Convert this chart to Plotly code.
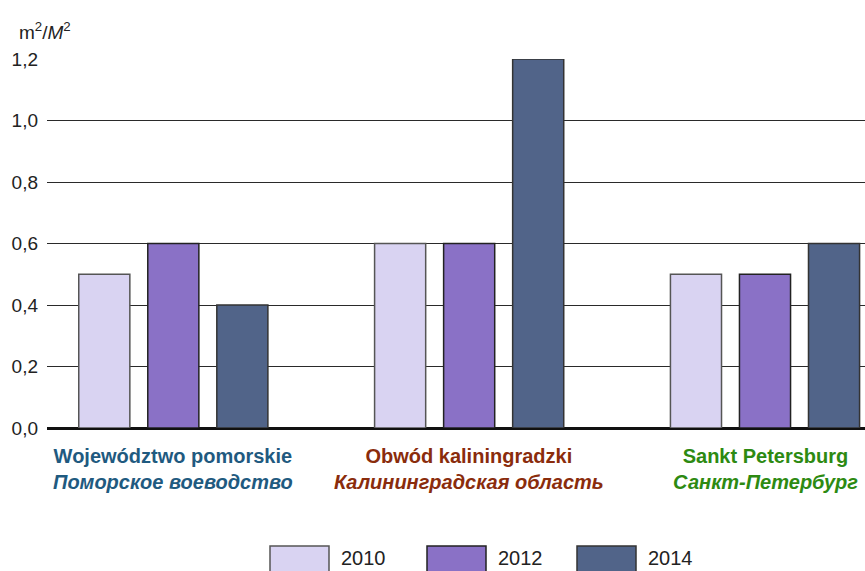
import plotly.graph_objects as go

# data
regions_pl = ["Województwo pomorskie", "Obwód kaliningradzki", "Sankt Petersburg"]
regions_ru = ["Поморское воеводство", "Калининградская область", "Санкт-Петербург"]
region_colors = ["#1F5A80", "#8A2C0C", "#2D8A12"]
years = ["2010", "2012", "2014"]
values_2010 = [0.5, 0.6, 0.5]
values_2012 = [0.6, 0.6, 0.5]
values_2014 = [0.4, 1.2, 0.6]
series = [values_2010, values_2012, values_2014]
bar_colors = ["#D9D3F2", "#8A71C6", "#516489"]
border_colors = ["#555555", "#222222", "#333333"]
y_ticks = [0, 0.2, 0.4, 0.6, 0.8, 1.0, 1.2]
y_labels = ["0,0", "0,2", "0,4", "0,6", "0,8", "1,0", "1,2"]

W, H = 865, 571
M_L, M_R, M_T, M_B = 47, 0, 59, 143
PW, PH = W - M_L - M_R, H - M_T - M_B
FONT = "Liberation Sans, Arial, sans-serif"


def px_x(x):
    return (x - M_L) / PW


def px_y(y):
    return (H - M_B - y) / PH


fig = go.Figure()
for year, vals, col, bcol in zip(years, series, bar_colors, border_colors):
    fig.add_trace(go.Bar(
        x=regions_pl, y=vals, name=year,
        marker=dict(color=col, line=dict(color=bcol, width=1.5)),
        showlegend=False,
    ))

annotations = [dict(
    text="m<sup>2</sup>/<i>M</i><sup>2</sup>", xref="paper", yref="paper",
    x=px_x(17), y=px_y(31), xanchor="left", yanchor="middle", showarrow=False,
    font=dict(family=FONT, size=19, color="#222222"),
)]
for pl, ru, col in zip(regions_pl, regions_ru, region_colors):
    annotations.append(dict(
        text=f"<b>{pl}</b><br><b><i>{ru}</i></b>", x=pl, xref="x",
        y=px_y(443), yref="paper", xanchor="center", yanchor="top",
        showarrow=False, align="center",
        font=dict(family=FONT, size=20, color=col),
    ))

# hand-drawn legend: large swatches along the bottom edge
shapes = []
legend_x = [270, 427, 577]
for year, col, bcol, lx in zip(years, bar_colors, border_colors, legend_x):
    shapes.append(dict(
        type="rect", xref="paper", yref="paper",
        x0=px_x(lx), x1=px_x(lx + 59), y0=px_y(546), y1=px_y(580),
        fillcolor=col, line=dict(color=bcol, width=1.5),
    ))
    annotations.append(dict(
        text=year, xref="paper", yref="paper", x=px_x(lx + 69), y=px_y(571),
        xanchor="left", yanchor="bottom", showarrow=False,
        font=dict(family=FONT, size=20, color="#222222"),
    ))

fig.update_layout(
    width=W, height=H,
    margin=dict(l=M_L, r=M_R, t=M_T, b=M_B),
    paper_bgcolor="white", plot_bgcolor="white",
    barmode="group", bargap=0.30, bargroupgap=0.26,
    font=dict(family=FONT, color="#222222"),
    xaxis=dict(range=[-0.427, 2.338], showticklabels=False, showgrid=False,
               zeroline=False, showline=False, ticks=""),
    yaxis=dict(range=[0, 1.2], tickvals=y_ticks, ticktext=y_labels,
               showgrid=True, gridcolor="#2a2a2a", gridwidth=1.2,
               zeroline=True, zerolinecolor="#111111", zerolinewidth=3,
               ticks="", ticklabelstandoff=8, tickfont=dict(size=19, color="#222222")),
    annotations=annotations, shapes=shapes,
)

# drop the page's default body margin so the figure sits at the window's corner
fig.write_html("out.html", config={"displayModeBar": False},
               post_script="document.body.style.margin='0';")
